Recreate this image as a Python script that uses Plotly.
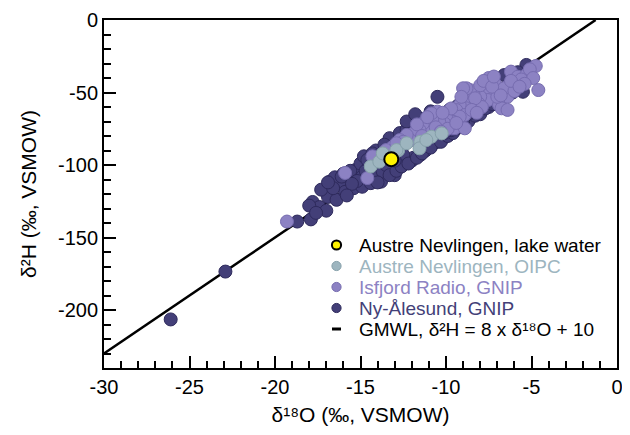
import plotly.graph_objects as go

# ---------------- data ----------------
ny_x = [-26.1, -22.9, -18.7, -17.9, -17.8, -17.4, -17.0, -16.9, -16.4, -16.8, -16.2, -16.5,
        -15.9, -15.7, -15.4, -15.3, -14.9, -14.9, -14.4, -14.2, -13.8, -13.7, -15.0, -14.8,
        -14.1, -13.3, -12.7, -12.3, -13.0, -12.8, -12.4, -12.0, -11.9, -11.5, -11.2, -10.8,
        -10.5, -10.2, -9.8, -9.5, -9.1, -8.8, -8.4, -12.0, -11.5, -11.2, -10.9, -10.5,
        -10.2, -9.8, -9.3, -8.9, -8.2, -7.6, -7.0, -6.6, -6.0, -5.5, -5.3, -5.8,
        -16.0, -15.6, -14.5, -13.9, -13.4, -13.5, -13.1, -12.6, -12.5, -12.1, -11.7, -11.3,
        -11.0, -10.6, -14.3, -13.6, -15.2, -14.7, -16.1, -17.3, -16.6, -18.0, -17.6, -14.0,
        -13.3, -12.9, -12.6, -12.2, -11.7, -11.4, -10.9, -10.3, -9.9, -9.6, -9.2, -8.7,
        -8.3, -7.9, -7.5, -7.2, -6.9, -8.6, -9.0, -9.4, -9.7, -10.1, -10.4, -10.7,
        -11.1, -8.0, -7.7, -7.3, -6.4, -6.1, -5.8, -16.9, -15.5, -13.0, -15.8, -14.6,
        -12.3, -11.8]
ny_y = [-206.5, -173.5, -139.0, -137.5, -125.5, -129.0, -131.5, -122.0, -124.0, -111.5, -112.5, -108.5,
        -118.5, -107.0, -116.0, -103.5, -115.0, -108.0, -112.5, -106.0, -111.5, -104.5, -99.0, -94.0,
        -90.0, -81.5, -78.0, -75.5, -107.0, -101.0, -98.0, -97.0, -95.0, -93.0, -90.0, -86.0,
        -84.0, -82.0, -79.0, -76.0, -72.0, -70.0, -66.0, -72.0, -68.0, -74.0, -63.0, -53.0,
        -66.0, -62.0, -59.0, -64.0, -58.0, -55.0, -53.0, -38.0, -45.0, -49.5, -31.0, -36.0,
        -106.0, -104.0, -100.0, -96.0, -92.0, -100.0, -88.0, -86.0, -93.0, -83.0, -80.0, -85.0,
        -79.0, -75.0, -92.0, -86.0, -111.0, -104.0, -108.0, -117.0, -116.0, -128.0, -133.0, -112.0,
        -107.0, -104.0, -101.0, -99.0, -95.0, -92.0, -88.0, -84.0, -80.0, -78.0, -74.0, -70.0,
        -66.0, -62.0, -60.0, -58.0, -54.0, -64.0, -70.0, -69.0, -76.0, -78.0, -72.0, -68.0,
        -70.0, -65.0, -61.0, -58.0, -52.0, -50.0, -46.0, -112.0, -113.0, -97.0, -121.0, -96.5,
        -70.0, -65.0]

isf_x = [-19.3, -15.9, -14.6, -14.3, -4.6, -4.75, -6.2, -5.8, -5.3, -5.9, -6.3, -6.4,
         -7.15, -7.05, -7.45, -7.55, -8.0, -8.1, -8.4, -8.6, -8.8, -9.0, -8.6, -8.8,
         -9.2, -9.4, -8.9, -9.2, -9.6, -9.5, -10.0, -10.1, -10.4, -10.5, -10.8, -10.85,
         -10.95, -11.35, -11.55, -11.9, -12.1, -12.3, -12.7, -13.1, -13.5, -6.9, -6.75, -6.4,
         -8.9, -8.0, -7.5, -7.8, -6.6, -5.6, -5.1, -4.9, -5.4, -6.0, -7.0, -7.3,
         -7.9, -8.3, -8.5, -9.1, -9.7, -10.2, -10.6, -11.1, -11.7, -12.5, -12.9, -9.9,
         -7.2, -6.8, -6.2, -5.7, -8.2, -9.4, -10.3, -11.4]
isf_y = [-139.0, -105.5, -109.0, -94.0, -48.3, -31.7, -35.6, -39.1, -37.9, -43.7, -44.8, -52.9,
         -43.7, -49.4, -50.6, -55.2, -52.9, -57.5, -50.6, -48.3, -47.1, -47.1, -57.5, -60.9,
         -58.6, -62.1, -65.5, -66.7, -70.1, -74.7, -66.7, -71.3, -70.1, -63.2, -69.0, -64.4,
         -73.6, -71.3, -75.9, -78.2, -82.8, -79.3, -82.8, -87.4, -89.7, -58.6, -60.9, -62.0,
         -74.7, -45.0, -40.0, -42.0, -47.0, -41.0, -34.0, -40.0, -44.0, -49.0, -53.0, -46.0,
         -60.0, -54.0, -62.0, -53.0, -61.0, -64.0, -74.0, -67.0, -72.0, -84.0, -85.0, -75.0,
         -39.0, -52.0, -42.0, -46.0, -64.0, -71.0, -77.0, -80.0]

oipc_x = [-14.4, -13.9, -13.4, -12.8, -12.9, -13.7, -11.5, -10.85, -10.25, -11.55, -12.3, -11.15]
oipc_y = [-101.0, -97.7, -94.3, -90.0, -89.7, -92.0, -84.0, -80.5, -78.2, -88.5, -85.0, -82.8]

lake_x = [-13.2]
lake_y = [-96.0]

gmwl_x = [-30.0, -1.25]
gmwl_slope = 8
gmwl_intercept = 10
gmwl_y = [gmwl_slope * v + gmwl_intercept for v in gmwl_x]

x_ticks = [-30, -25, -20, -15, -10, -5, 0]
x_ticktext = ["-30", "-25", "-20", "-15", "-10", "-5", "0"]
y_ticks = [0, -50, -100, -150, -200]
y_ticktext = ["0", "-50", "-100", "-150", "-200"]

legend_labels = ["Austre Nevlingen, lake water", "Austre Nevlingen, OIPC",
                 "Isfjord Radio, GNIP", "Ny-Ålesund, GNIP", "GMWL, δ²H = 8 x δ¹⁸O + 10"]

# ---------------- colours ----------------
C_NY = "#433f78"
C_NY_EDGE = "#2e2a5c"
C_ISF = "#8c82c3"
C_ISF_EDGE = "#766caf"
C_OIPC = "#9db5bf"
C_OIPC_EDGE = "#86a0aa"
C_LAKE = "#fff200"

FONT = "Arial, Liberation Sans, sans-serif"

# page body has an 8px margin; target screen positions of the plot area
OFF = 8
W, H = 630 - OFF, 435 - OFF
ML, MT = 104 - OFF, 20 - OFF
MR = W - (617 - OFF)
MB = H - (368 - OFF)
PW, PH = W - ML - MR, H - MT - MB

fig = go.Figure()

fig.add_trace(go.Scatter(x=gmwl_x, y=gmwl_y, mode="lines",
                         line=dict(color="black", width=2.5), showlegend=False,
                         hoverinfo="skip"))
fig.add_trace(go.Scatter(x=ny_x, y=ny_y, mode="markers", name="Ny-Ålesund, GNIP", showlegend=False,
                         marker=dict(size=13, color=C_NY, line=dict(color=C_NY_EDGE, width=1))))
fig.add_trace(go.Scatter(x=isf_x, y=isf_y, mode="markers", name="Isfjord Radio, GNIP", showlegend=False,
                         marker=dict(size=13, color=C_ISF, line=dict(color=C_ISF_EDGE, width=1))))
fig.add_trace(go.Scatter(x=oipc_x, y=oipc_y, mode="markers", name="Austre Nevlingen, OIPC",
                         showlegend=False,
                         marker=dict(size=13, color=C_OIPC, line=dict(color=C_OIPC_EDGE, width=1))))
fig.add_trace(go.Scatter(x=lake_x, y=lake_y, mode="markers", name="Austre Nevlingen, lake water",
                         showlegend=False,
                         marker=dict(size=14, color=C_LAKE, line=dict(color="black", width=2))))

# ---------------- hand-built legend (paper coordinates, screen pixels) ----------------
leg_fill = [C_LAKE, C_OIPC, C_ISF, C_NY, None]
leg_edge = ["black", C_OIPC_EDGE, C_ISF_EDGE, C_NY_EDGE, None]
leg_text_col = ["black", C_OIPC, C_ISF, C_NY, "black"]
row_px0, row_step = 245, 21.0
mark_px = 336.5
text_px = 357
r = 4.6


def px_to_paper_x(px):
    return (px - OFF - ML) / PW


def px_to_paper_y(py):
    return (H - MB - (py - OFF)) / PH


for i, lab in enumerate(legend_labels):
    cy = row_px0 + i * row_step
    yp = px_to_paper_y(cy)
    if leg_fill[i] is not None:
        fig.add_shape(type="circle", xref="paper", yref="paper",
                      x0=px_to_paper_x(mark_px - r), x1=px_to_paper_x(mark_px + r),
                      y0=yp - r / PH, y1=yp + r / PH,
                      fillcolor=leg_fill[i],
                      line=dict(color=leg_edge[i], width=2 if i == 0 else 1))
    else:
        fig.add_shape(type="line", xref="paper", yref="paper",
                      x0=px_to_paper_x(mark_px - 4.5), x1=px_to_paper_x(mark_px + 4.5),
                      y0=yp, y1=yp, line=dict(color="black", width=3))
    fig.add_annotation(xref="paper", yref="paper", x=px_to_paper_x(text_px), y=yp,
                       xanchor="left", yanchor="middle", showarrow=False, text=lab,
                       font=dict(family=FONT, size=19, color=leg_text_col[i]))

axis_common = dict(showline=True, linecolor="black", linewidth=2, mirror=True,
                   ticks="inside", ticklen=12, tickwidth=1.5, tickcolor="black",
                   showgrid=False, zeroline=False, automargin=False,
                   tickfont=dict(family=FONT, size=20, color="black"))

fig.update_xaxes(range=[-30, 0], tickmode="array", tickvals=x_ticks, ticktext=x_ticktext,
                 minor=dict(dtick=1, tick0=0, ticks="inside", ticklen=7, tickwidth=1.5,
                            tickcolor="black", showgrid=False),
                 title=dict(text="δ¹⁸O (‰, VSMOW)", font=dict(family=FONT, size=21, color="black"),
                            standoff=10),
                 **axis_common)
fig.update_yaxes(range=[-240, 0], tickmode="array", tickvals=y_ticks, ticktext=y_ticktext,
                 minor=dict(dtick=10, tick0=0, ticks="inside", ticklen=7, tickwidth=1.5,
                            tickcolor="black", showgrid=False),
                 title=dict(text="δ²H (‰, VSMOW)", font=dict(family=FONT, size=21, color="black"),
                            standoff=16),
                 **axis_common)

fig.update_layout(
    width=W, height=H,
    margin=dict(l=ML, r=MR, t=MT, b=MB),
    plot_bgcolor="white", paper_bgcolor="white",
    font=dict(family=FONT, color="black"),
    showlegend=False,
)

fig.write_html("out.html")
